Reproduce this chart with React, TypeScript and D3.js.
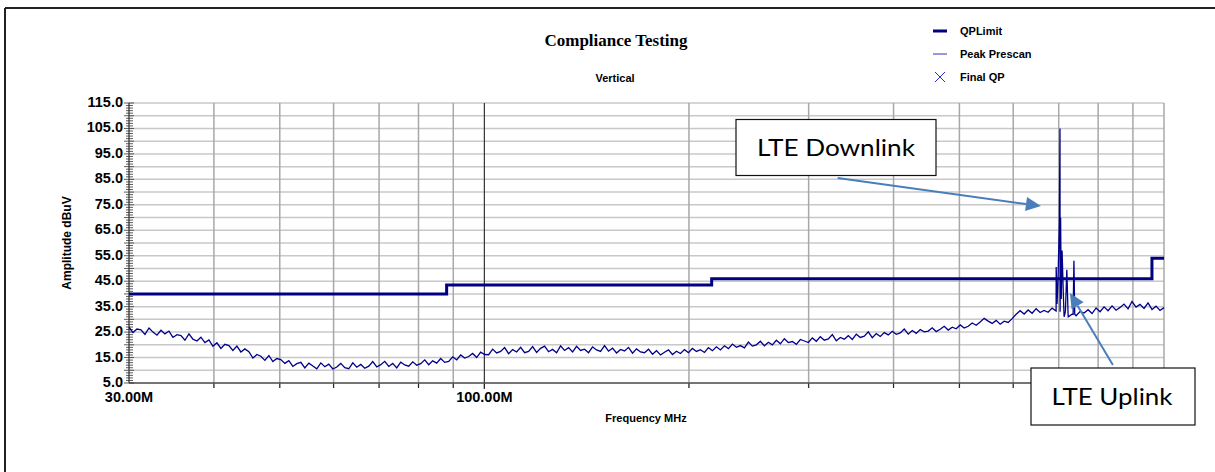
import React from "react";
import * as d3 from "d3";

// ---- data ----
const FREQ_START = 30; // MHz
const FREQ_STOP = 1000; // MHz
const SWEEP_POINTS = 260;

// Peak prescan trace (dBuV) at each sweep point
const prescanValues: number[] = [
  26.9, 24.8, 26.2, 25.9, 24.1, 26.6, 25.0, 23.8, 25.7, 24.3,
  25.4, 22.9, 24.0, 23.6, 21.8, 24.3, 22.2, 21.5, 23.0, 20.9,
  21.9, 19.4, 20.8, 18.6, 20.2, 19.7, 17.8, 19.5, 17.2, 18.4,
  17.3, 14.8, 16.2, 15.5, 13.9, 15.8, 13.4, 14.6, 14.2, 12.7,
  13.8, 11.5, 12.6, 13.1, 10.9, 12.8, 11.7, 10.6, 12.9, 11.4,
  12.4, 10.5, 11.3, 12.7, 11.0, 10.6, 12.9, 11.2, 12.3, 10.8,
  11.6, 13.4, 11.3, 12.2, 13.5, 11.5, 12.7, 10.9, 13.2, 12.1,
  11.6, 13.3, 12.0, 12.6, 14.1, 12.2, 13.7, 12.8, 14.6, 13.1,
  13.5, 15.3, 14.1, 16.0, 14.8, 15.4, 16.6, 15.0, 17.1, 16.2,
  16.1, 18.3, 16.8, 17.4, 18.9, 16.5, 18.1, 17.2, 19.0, 16.9,
  17.4, 19.3, 17.0, 18.6, 19.5, 17.3, 18.2, 16.9, 19.6, 17.8,
  18.9, 17.2, 19.4, 17.8, 18.3, 16.9, 19.2, 18.0, 17.4, 19.7,
  17.5, 18.7, 16.8, 18.2, 17.6, 19.0, 16.7, 18.4, 17.2, 16.9,
  18.3, 16.3, 17.7, 16.0, 17.1, 18.0, 16.2, 17.5, 16.6, 18.1,
  16.9, 18.6, 17.4, 18.1, 17.0, 18.9, 17.7, 19.2, 18.0, 19.6,
  18.5, 20.3, 19.0, 19.7, 18.8, 21.1, 19.5, 20.0, 21.4, 19.6,
  21.0, 20.0, 21.8, 20.4, 22.4, 20.9, 21.3, 20.2, 22.1, 21.5,
  20.9, 22.7, 21.4, 23.2, 21.8, 22.3, 24.0, 21.6, 22.9, 22.2,
  23.6, 22.1, 24.2, 22.9, 23.4, 25.1, 22.8, 24.4, 23.3, 24.8,
  23.9, 25.3, 24.1, 24.7, 26.2, 24.2, 25.6, 24.5, 26.0, 25.1,
  25.4, 26.7, 25.2, 26.1, 27.3, 25.8, 26.9, 26.3, 27.8, 26.6,
  27.3, 28.6, 27.7, 29.0, 30.4, 29.3, 28.4, 29.6, 28.1, 29.3,
  28.8, 30.3, 32.0, 33.4, 32.1, 33.7, 32.4, 34.2, 32.7, 33.5,
  32.8, 34.4, 33.3, 33.0, 31.0, 31.8, 32.0, 31.4, 33.1, 32.5,
  33.8, 32.3, 34.5, 33.0, 34.9, 33.4, 35.3, 33.6, 34.7, 36.0,
  34.1, 37.0, 34.8, 35.9, 34.3, 36.5, 33.9, 35.2, 33.5, 34.6,
];

// LTE emissions caught by the prescan (MHz, dBuV)
const spikeFreqs: number[] = [694, 696, 698, 701.5, 703, 704.5, 706, 708, 711, 716, 719.5, 723, 735, 737, 739];
const spikeValues: number[] = [50.6, 36, 44, 68, 105, 70, 38, 57, 40, 33, 49.5, 31, 32, 53, 32];

// QP limit (step after each breakpoint)
const limitFreqs: number[] = [30, 88, 216, 960, 1000];
const limitValues: number[] = [40, 43.5, 46, 54, 54];

const yTickValues: number[] = [5, 15, 25, 35, 45, 55, 65, 75, 85, 95, 105, 115];
const xGridFreqs: number[] = [40, 50, 60, 70, 80, 90, 100, 200, 300, 400, 500, 600, 700, 800, 900, 1000];
const xLabelFreqs: number[] = [30, 100];
const xLabelTexts: string[] = ["30.00M", "100.00M"];

const legendLabels: string[] = ["QPLimit", "Peak Prescan", "Final QP"];

// ---- layout ----
const W = 1215;
const H = 472;
const PL = 129, PR = 1164, PT = 103, PB = 383;

export default function App() {
  const x = d3.scaleLog().domain([FREQ_START, FREQ_STOP]).range([PL, PR]);
  const y = d3.scaleLinear().domain([5, 115]).range([PB, PT]);

  const sweep = d3.range(SWEEP_POINTS).map(
    (i) => FREQ_START * Math.pow(FREQ_STOP / FREQ_START, i / (SWEEP_POINTS - 1))
  );
  const trace: [number, number][] = sweep.map((f, i) => [f, prescanValues[i]] as [number, number]);
  spikeFreqs.forEach((f, i) => trace.push([f, spikeValues[i]]));
  trace.sort((a, b) => a[0] - b[0]);

  const line = d3
    .line<[number, number]>()
    .x((d) => x(d[0]))
    .y((d) => y(d[1]));
  const limitLine = d3
    .line<[number, number]>()
    .x((d) => x(d[0]))
    .y((d) => y(d[1]))
    .curve(d3.curveStepAfter);
  const limitPts = limitFreqs.map((f, i) => [f, limitValues[i]] as [number, number]);

  const minorY = d3.range(5, 115.001, 1);
  const gridY = d3.range(5, 115.001, 5);

  const sans = "'Liberation Sans', Arial, sans-serif";
  const callFont = "Lato, 'Open Sans', sans-serif";
  const arrowColor = "#4a7ebb";

  // annotation arrows (data coordinates)
  const downFrom: [number, number] = [331, 85.5];
  const downTo: [number, number] = [659, 74.5];
  const upFrom: [number, number] = [841, 12.1];
  const upTo: [number, number] = [727, 40.4];

  const arrow = (from: [number, number], to: [number, number], key: string) => {
    const x1 = x(from[0]), y1 = y(from[1]), x2 = x(to[0]), y2 = y(to[1]);
    const ang = Math.atan2(y2 - y1, x2 - x1);
    const L = 15, Wd = 7;
    const bx = x2 - L * Math.cos(ang), by = y2 - L * Math.sin(ang);
    const p1 = [bx + Wd * Math.sin(ang), by - Wd * Math.cos(ang)];
    const p2 = [bx - Wd * Math.sin(ang), by + Wd * Math.cos(ang)];
    return (
      <g key={key}>
        <line x1={x1} y1={y1} x2={bx} y2={by} stroke={arrowColor} strokeWidth={2} />
        <polygon points={`${x2},${y2} ${p1[0]},${p1[1]} ${p2[0]},${p2[1]}`} fill={arrowColor} />
      </g>
    );
  };

  return (
    <svg
      width={W}
      height={H}
      style={{ position: "absolute", left: 0, top: 0, background: "#fff" }}
      xmlns="http://www.w3.org/2000/svg"
    >
      {/* outer frame */}
      <line x1={5} y1={8} x2={W} y2={8} stroke="#222" strokeWidth={2} />
      <line x1={5} y1={8} x2={5} y2={H} stroke="#222" strokeWidth={2} />

      {/* title */}
      <text x={616} y={46} textAnchor="middle" fontFamily="'Liberation Serif', 'Times New Roman', serif" fontWeight="bold" fontSize={17}>
        Compliance Testing
      </text>
      <text x={615} y={82} textAnchor="middle" fontFamily={sans} fontWeight="bold" fontSize={11}>
        Vertical
      </text>

      {/* legend */}
      <g fontFamily={sans} fontWeight="bold" fontSize={11}>
        <line x1={933} x2={947} y1={31} y2={31} stroke="#000080" strokeWidth={3} />
        <text x={960} y={35}>{legendLabels[0]}</text>
        <line x1={933} x2={947} y1={54} y2={54} stroke="#3030c0" strokeWidth={1} />
        <text x={960} y={58}>{legendLabels[1]}</text>
        <g stroke="#2a2ad8" strokeWidth={1}>
          <line x1={935} y1={72} x2={945} y2={82} />
          <line x1={935} y1={82} x2={945} y2={72} />
        </g>
        <text x={960} y={81}>{legendLabels[2]}</text>
      </g>

      {/* horizontal grid */}
      {gridY.map((v) => (
        <line key={"gy" + v} x1={PL} x2={PR} y1={y(v)} y2={y(v)} stroke="#c8c8c8" strokeWidth={1.5} />
      ))}
      {/* vertical grid */}
      {xGridFreqs.map((f) => (
        <line
          key={"gx" + f}
          x1={x(f)}
          x2={x(f)}
          y1={PT}
          y2={PB + (f === 100 ? 6 : 5)}
          stroke={f === 100 ? "#333" : "#a8a8a8"}
          strokeWidth={f === 100 ? 1.2 : 1.5}
        />
      ))}
      {xGridFreqs.map((f) => (
        <line key={"tx" + f} x1={x(f)} x2={x(f)} y1={PB} y2={PB + 5} stroke="#222" strokeWidth={1} />
      ))}

      {/* axes */}
      <line x1={PL} x2={PR} y1={PB} y2={PB} stroke="#555" strokeWidth={1.5} />
      <line x1={PL} x2={PL} y1={PT} y2={PB} stroke="#555" strokeWidth={1.5} />
      {minorY.map((v) => (
        <line
          key={"my" + v}
          x1={v % 5 === 0 ? 124 : 126}
          x2={v % 5 === 0 ? 134 : 133}
          y1={y(v)}
          y2={y(v)}
          stroke="#333"
          strokeWidth={0.8}
        />
      ))}

      {/* y tick labels */}
      <g fontFamily={sans} fontWeight="bold" fontSize={14.5} textAnchor="end">
        {yTickValues.map((v) => (
          <text key={"yl" + v} x={123} y={y(v) + 4}>
            {v.toFixed(1)}
          </text>
        ))}
      </g>
      {/* x tick labels */}
      <g fontFamily={sans} fontWeight="bold" fontSize={14.5} textAnchor="middle">
        {xLabelFreqs.map((f, i) => (
          <text key={"xl" + f} x={x(f)} y={402}>
            {xLabelTexts[i]}
          </text>
        ))}
      </g>
      <text x={646} y={422} textAnchor="middle" fontFamily={sans} fontWeight="bold" fontSize={11}>
        Frequency MHz
      </text>
      <text
        transform={`translate(71,243) rotate(-90)`}
        textAnchor="middle"
        fontFamily={sans}
        fontWeight="bold"
        fontSize={12}
      >
        Amplitude dBuV
      </text>

      {/* data */}
      <path d={line(trace) || ""} fill="none" stroke="#00008b" strokeWidth={1.3} strokeLinejoin="miter" />
      <path d={limitLine(limitPts) || ""} fill="none" stroke="#000080" strokeWidth={3} />

      {/* annotations */}
      {arrow(downFrom, downTo, "down")}
      {arrow(upFrom, upTo, "up")}
      <rect x={736} y={119.5} width={200} height={56} fill="#fff" stroke="#111" strokeWidth={1.2} />
      <text x={836} y={156} textAnchor="middle" fontFamily={callFont} fontSize={24} textLength={158} lengthAdjust="spacingAndGlyphs">
        LTE Downlink
      </text>
      <rect x={1031} y={368} width={164} height={57} fill="#fff" stroke="#111" strokeWidth={1.2} />
      <text x={1112} y={405} textAnchor="middle" fontFamily={callFont} fontSize={24} textLength={121} lengthAdjust="spacingAndGlyphs">
        LTE Uplink
      </text>
    </svg>
  );
}
